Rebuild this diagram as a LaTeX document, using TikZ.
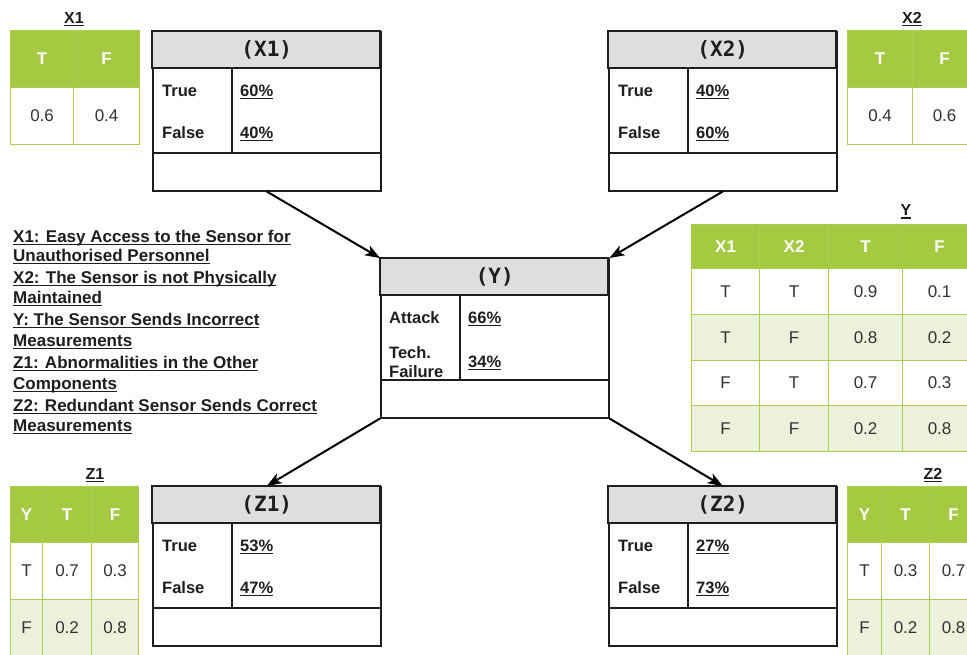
\documentclass[tikz,border=0pt]{standalone}
\usepackage{fontspec}
\setmainfont{Liberation Sans}
\newfontfamily\monof{DejaVu Sans Mono}
\usetikzlibrary{arrows.meta,calc}
\definecolor{hdrgreen}{RGB}{166,201,66}
\definecolor{rowgreen}{RGB}{235,241,218}
\definecolor{tblline}{RGB}{172,205,80}
\definecolor{hdrgray}{RGB}{222,222,222}
\definecolor{boxc}{RGB}{30,30,30}
\definecolor{txtc}{RGB}{50,50,50}
\newcommand\myul[1]{\setbox0\hbox{#1}\rlap{\rule[-3pt]{\wd0}{1.3pt}}\box0}
\newcommand\mycell[7]{\node[#1, minimum width=#5pt, minimum height=#6pt] (#2) at (#3,#4) {#7};}
\newcommand\pbox[4]{%
  \node[boxframe] (#1) at (#2,#3) {};
  \draw[boxline, fill=hdrgray] (#1.north west) rectangle ++(228,37);
  \node[titlef] (#1t) at ($(#1.north)+(0,18.5)$) {#4};
  \draw[boxline] ($(#1.north west)+(0,122)$) -- ($(#1.north east)+(0,122)$);
  \draw[boxline] ($(#1.north west)+(80,37)$) -- ($(#1.north west)+(80,122)$);
}
\tikzset{
  boxframe/.style={draw=boxc, fill=white, line width=1.5pt, minimum width=228pt, minimum height=159pt, inner sep=0pt, anchor=north west},
  boxline/.style={draw=boxc, line width=1.5pt},
  titlef/.style={font=\monof\bfseries\fontsize{21}{24}\selectfont, text=boxc, inner sep=0pt},
  lbl/.style={font=\bfseries\fontsize{16.5}{19}\selectfont, anchor=base west, inner sep=0pt, text=boxc},
  arr/.style={-{Stealth[length=15pt,width=11pt,inset=4pt]}, line width=2pt, black},
  cell/.style={draw=tblline, line width=1.2pt, anchor=north west, inner sep=0pt, font=\fontsize{17}{20}\selectfont, text=txtc},
  hcell/.style={cell, fill=hdrgreen, text=white, font=\bfseries\fontsize{17}{20}\selectfont},
  wcell/.style={cell, fill=white},
  gcell/.style={cell, fill=rowgreen},
  tlabel/.style={font=\bfseries\fontsize{16}{19}\selectfont, inner sep=0pt, anchor=base, text=boxc},
  leg/.style={font=\bfseries\fontsize{17}{20}\selectfont, anchor=base west, inner sep=0pt, text=boxc},
}
\begin{document}
\begin{tikzpicture}[x=1pt,y=-1pt]
\useasboundingbox (0,0) rectangle (967,654);
\clip (0,0) rectangle (967,654);
\fill[white] (0,0) rectangle (967,654);

% ---- X1 table
\mycell{hcell}{x1h1}{10}{30}{63}{57}{T}
\mycell{hcell}{x1h2}{73}{30}{66}{57}{F}
\mycell{wcell}{x1r1}{10}{87}{63}{57}{0.6}
\mycell{wcell}{x1r2}{73}{87}{66}{57}{0.4}
\node[tlabel] (x1lab) at (74,23) {\myul{X1}};

% ---- X2 table
\mycell{hcell}{x2h1}{847}{30}{65}{57}{T}
\mycell{hcell}{x2h2}{912}{30}{64}{57}{F}
\mycell{wcell}{x2r1}{847}{87}{65}{57}{0.4}
\mycell{wcell}{x2r2}{912}{87}{64}{57}{0.6}
\node[tlabel] (x2lab) at (912,23) {\myul{X2}};

% ---- Y table
\mycell{hcell}{yh1}{691}{224}{68}{44}{X1}
\mycell{hcell}{yh2}{759}{224}{69}{44}{X2}
\mycell{hcell}{yh3}{828}{224}{74}{44}{T}
\mycell{hcell}{yh4}{902}{224}{74}{44}{F}
\mycell{wcell}{ya1}{691}{268}{68}{46}{T}
\mycell{wcell}{ya2}{759}{268}{69}{46}{T}
\mycell{wcell}{ya3}{828}{268}{74}{46}{0.9}
\mycell{wcell}{ya4}{902}{268}{74}{46}{0.1}
\mycell{gcell}{yb1}{691}{314}{68}{46}{T}
\mycell{gcell}{yb2}{759}{314}{69}{46}{F}
\mycell{gcell}{yb3}{828}{314}{74}{46}{0.8}
\mycell{gcell}{yb4}{902}{314}{74}{46}{0.2}
\mycell{wcell}{yc1}{691}{360}{68}{45}{F}
\mycell{wcell}{yc2}{759}{360}{69}{45}{T}
\mycell{wcell}{yc3}{828}{360}{74}{45}{0.7}
\mycell{wcell}{yc4}{902}{360}{74}{45}{0.3}
\mycell{gcell}{yd1}{691}{405}{68}{46}{F}
\mycell{gcell}{yd2}{759}{405}{69}{46}{F}
\mycell{gcell}{yd3}{828}{405}{74}{46}{0.2}
\mycell{gcell}{yd4}{902}{405}{74}{46}{0.8}
\node[tlabel] (ylab) at (906,215.5) {\myul{Y}};

% ---- Z1 table
\mycell{hcell}{z1h1}{10}{486}{32}{56}{Y}
\mycell{hcell}{z1h2}{42}{486}{49}{56}{T}
\mycell{hcell}{z1h3}{91}{486}{47}{56}{F}
\mycell{wcell}{z1a1}{10}{542}{32}{57}{T}
\mycell{wcell}{z1a2}{42}{542}{49}{57}{0.7}
\mycell{wcell}{z1a3}{91}{542}{47}{57}{0.3}
\mycell{gcell}{z1b1}{10}{599}{32}{57}{F}
\mycell{gcell}{z1b2}{42}{599}{49}{57}{0.2}
\mycell{gcell}{z1b3}{91}{599}{47}{57}{0.8}
\node[tlabel] (z1lab) at (95,479) {\myul{Z1}};

% ---- Z2 table
\mycell{hcell}{z2h1}{847}{486}{34}{56}{Y}
\mycell{hcell}{z2h2}{881}{486}{48}{56}{T}
\mycell{hcell}{z2h3}{929}{486}{48}{56}{F}
\mycell{wcell}{z2a1}{847}{542}{34}{57}{T}
\mycell{wcell}{z2a2}{881}{542}{48}{57}{0.3}
\mycell{wcell}{z2a3}{929}{542}{48}{57}{0.7}
\mycell{gcell}{z2b1}{847}{599}{34}{57}{F}
\mycell{gcell}{z2b2}{881}{599}{48}{57}{0.2}
\mycell{gcell}{z2b3}{929}{599}{48}{57}{0.8}
\node[tlabel] (z2lab) at (933,479) {\myul{Z2}};

% ---- probability boxes
\pbox{X1}{152}{31}{(X1)}
\node[lbl] (x1l1) at ($(X1.north west)+(10,65)$) {True};
\node[lbl] (x1l2) at ($(X1.north west)+(10,107)$) {False};
\node[lbl] (x1v1) at ($(X1.north west)+(88,65)$) {\myul{60\%}};
\node[lbl] (x1v2) at ($(X1.north west)+(88,107)$) {\myul{40\%}};

\pbox{X2}{608}{31}{(X2)}
\node[lbl] (x2l1) at ($(X2.north west)+(10,65)$) {True};
\node[lbl] (x2l2) at ($(X2.north west)+(10,107)$) {False};
\node[lbl] (x2v1) at ($(X2.north west)+(88,65)$) {\myul{40\%}};
\node[lbl] (x2v2) at ($(X2.north west)+(88,107)$) {\myul{60\%}};

\pbox{Y}{380}{258}{(Y)}
\node[lbl] (yl1) at ($(Y.north west)+(9,65)$) {Attack};
\node[lbl] (yl2) at ($(Y.north west)+(9,100)$) {Tech.};
\node[lbl] (yl3) at ($(Y.north west)+(9,119)$) {Failure};
\node[lbl] (yv1) at ($(Y.north west)+(88,65)$) {\myul{66\%}};
\node[lbl] (yv2) at ($(Y.north west)+(88,109)$) {\myul{34\%}};

\pbox{Z1}{152}{486}{(Z1)}
\node[lbl] (z1l1) at ($(Z1.north west)+(10,65)$) {True};
\node[lbl] (z1l2) at ($(Z1.north west)+(10,107)$) {False};
\node[lbl] (z1v1) at ($(Z1.north west)+(88,65)$) {\myul{53\%}};
\node[lbl] (z1v2) at ($(Z1.north west)+(88,107)$) {\myul{47\%}};

\pbox{Z2}{608}{486}{(Z2)}
\node[lbl] (z2l1) at ($(Z2.north west)+(10,65)$) {True};
\node[lbl] (z2l2) at ($(Z2.north west)+(10,107)$) {False};
\node[lbl] (z2v1) at ($(Z2.north west)+(88,65)$) {\myul{27\%}};
\node[lbl] (z2v2) at ($(Z2.north west)+(88,107)$) {\myul{73\%}};

% ---- arrows
\draw[arr] (X1.south) -- (Y.north west);
\draw[arr] (X2.south) -- (Y.north east);
\draw[arr] (Y.south west) -- (Z1.north);
\draw[arr] (Y.south east) -- (Z2.north);

% ---- legend
\node[leg] (leg1) at (13,242) {\myul{X1: Easy Access to the Sensor for}};
\node[leg] (leg2) at (13,261) {\myul{Unauthorised Personnel}};
\node[leg] (leg3) at (13,283) {\myul{X2: The Sensor is not Physically}};
\node[leg] (leg4) at (13,303) {\myul{Maintained}};
\node[leg] (leg5) at (13,325) {\myul{Y: The Sensor Sends Incorrect}};
\node[leg] (leg6) at (13,346) {\myul{Measurements}};
\node[leg] (leg7) at (13,368) {\myul{Z1: Abnormalities in the Other}};
\node[leg] (leg8) at (13,389) {\myul{Components}};
\node[leg] (leg9) at (13,411) {\myul{Z2: Redundant Sensor Sends Correct}};
\node[leg] (leg10) at (13,431) {\myul{Measurements}};
\end{tikzpicture}
\end{document}
